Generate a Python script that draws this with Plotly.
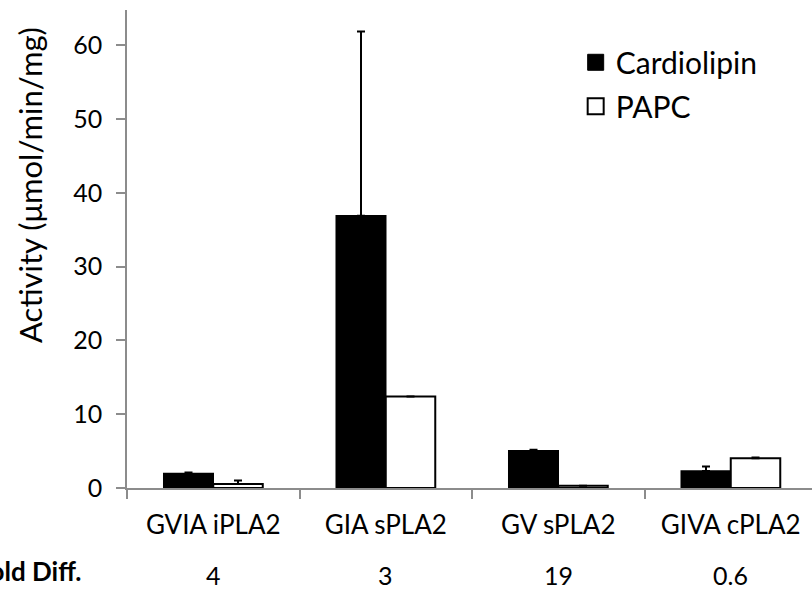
import plotly.graph_objects as go

categories = ["GVIA iPLA2", "GIA sPLA2", "GV sPLA2", "GIVA cPLA2"]
cardiolipin = [1.95, 36.9, 5.05, 2.3]
cardiolipin_err = [0.15, 25.0, 0.15, 0.6]
papc = [0.55, 12.4, 0.3, 4.05]
papc_err = [0.45, 0.0, 0.0, 0.1]
fold_diff = ["4", "3", "19", "0.6"]
y_ticks = [0, 10, 20, 30, 40, 50, 60]

FONT = "Lato"

fig = go.Figure()
fig.add_trace(go.Bar(
    x=categories, y=cardiolipin, name="Cardiolipin", showlegend=False,
    marker=dict(color="black", line=dict(color="black", width=1.5)),
    error_y=dict(type="data", symmetric=False, array=cardiolipin_err,
                 arrayminus=[0] * 4, color="black", thickness=2, width=4),
))
fig.add_trace(go.Bar(
    x=categories, y=papc, name="PAPC", showlegend=False,
    marker=dict(color="white", line=dict(color="black", width=2)),
    error_y=dict(type="data", symmetric=False, array=papc_err,
                 arrayminus=[0] * 4, color="black", thickness=2, width=4),
))
# legend entries
fig.add_trace(go.Scatter(
    x=[None], y=[None], mode="markers", name="Cardiolipin", legendgroup="a",
    marker=dict(symbol="square", size=19, color="black", line=dict(color="black", width=1)),
))
fig.add_trace(go.Scatter(
    x=[None], y=[None], mode="markers", name="PAPC", legendgroup="b",
    marker=dict(symbol="square", size=18, color="white", line=dict(color="black", width=2)),
))

for cat, fd in zip(categories, fold_diff):
    fig.add_annotation(x=cat, y=-0.181, xref="x", yref="paper", text=fd,
                       showarrow=False, font=dict(family=FONT, size=25, color="black"),
                       xanchor="center", yanchor="middle")

fig.add_annotation(x=-0.0635, y=-0.1736, xref="paper", yref="paper",
                   text="<b>Fold Diff.</b>", showarrow=False,
                   font=dict(family=FONT, size=26, color="black"),
                   xanchor="right", yanchor="middle")

fig.add_annotation(x=-0.1416, y=0.634, xref="paper", yref="paper",
                   text="Activity (μmol/min/mg)", textangle=-90, showarrow=False,
                   font=dict(family=FONT, size=31, color="black"),
                   xanchor="center", yanchor="middle")

fig.update_layout(
    width=812, height=590,
    margin=dict(l=127, r=0, t=10, b=102),
    paper_bgcolor="white", plot_bgcolor="white",
    barmode="group", bargap=0.426, bargroupgap=0,
    font=dict(family=FONT, size=25, color="black"),
    legend=dict(x=0.655, y=0.945, xanchor="left", yanchor="top",
                font=dict(family=FONT, size=30, color="black"),
                bgcolor="rgba(0,0,0,0)", tracegroupgap=2),
    xaxis=dict(
        type="category", range=[-0.5, 3.471],
        showline=True, linecolor="#8c8c8c", linewidth=1.5,
        ticks="outside", tickson="boundaries", ticklen=9, tickcolor="#8c8c8c", tickwidth=1.5,
        tickfont=dict(family=FONT, size=26, color="black"),
        ticklabelstandoff=13,
        showgrid=False, zeroline=False,
    ),
    yaxis=dict(
        range=[0, 64.8], tickvals=y_ticks,
        showline=True, linecolor="#8c8c8c", linewidth=1.5,
        ticks="outside", ticklen=9, tickcolor="#8c8c8c", tickwidth=1.5,
        tickfont=dict(family=FONT, size=25, color="black"),
        ticklabelstandoff=9,
        showgrid=False, zeroline=False,
    ),
)

fig.write_html("out.html", config={"displayModeBar": False},
               post_script="document.body.style.margin='0';")
